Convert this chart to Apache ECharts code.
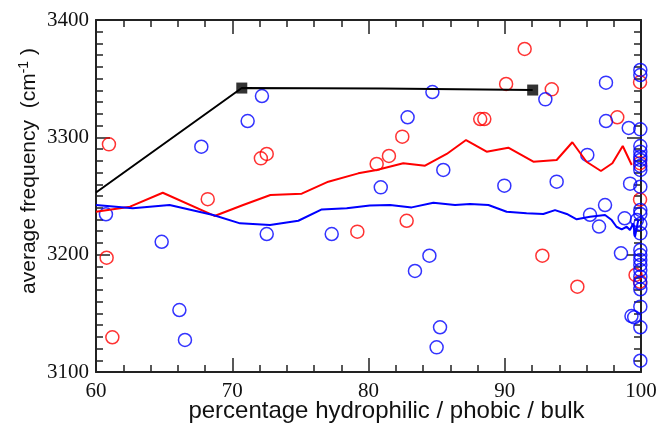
<!DOCTYPE html>
<html>
<head>
<meta charset="utf-8">
<script src="https://cdn.jsdelivr.net/npm/echarts@6/dist/echarts.min.js"></script>
<style>html,body{margin:0;padding:0;background:#fff;}#c{width:658px;height:423px;background:#fff;}</style>
</head>
<body>
<div id="c"></div>
<script>
// ---- data ----
var xTicks = [60, 70, 80, 90, 100];
var yTicks = [3100, 3200, 3300, 3400];
var xTitle = 'percentage hydrophilic / phobic / bulk';
var yTitle = '{a|average frequency  (cm}{s|-1}{a| )}';

var blackLineX = [60, 70.7, 81, 92.05];
var blackLineY = [3253, 3342, 3341.6, 3340.3];
var squareX = [70.7, 92.05];
var squareY = [3342, 3340.3];

var redLineX = [60, 62.5, 64.9, 68.7, 70.8, 72.8, 75.1, 77.05, 79.25, 80.6, 82.55, 84.15, 85.74, 87.16, 88.67, 90.26, 92.1, 93.81, 94.96, 96.0, 97.06, 97.9, 98.66, 99.32];
var redLineY = [3236.6, 3240.9, 3252.8, 3233, 3242.3, 3250.9, 3252, 3262.2, 3269.3, 3272.2, 3277.9, 3275.8, 3285.8, 3297.7, 3287.8, 3291.2, 3279.2, 3280.7, 3295.8, 3279.2, 3271.3, 3277.9, 3292.6, 3276.4];

var blueLineX = [60, 62.7, 65.4, 68.6, 70.57, 72.77, 74.85, 76.57, 78.4, 80.1, 81.58, 83.17, 84.76, 86.35, 87.45, 88.8, 90.14, 91.6, 92.83, 93.69, 94.55, 95.28, 96.26, 97.36, 97.85, 98.2, 98.58, 98.95, 99.19, 99.43, 99.56, 99.8];
var blueLineY = [3242.3, 3239.5, 3242.3, 3233.8, 3226.7, 3225.3, 3228.9, 3238.6, 3239.5, 3242, 3242.3, 3240.3, 3244.3, 3242.3, 3243.2, 3242.3, 3236.6, 3235.2, 3234.7, 3238, 3234.7, 3230.1, 3232.4, 3233.8, 3229.5, 3223.8, 3221.6, 3223.8, 3221, 3226.7, 3215.3, 3229.5];

var redPtsX = [60.95, 60.78, 61.2, 68.2, 72.1, 72.53, 79.18, 80.6, 81.5, 82.48, 82.8, 88.2, 88.5, 90.1, 91.46, 92.76, 93.45, 95.33, 98.26, 99.93, 99.93, 99.93, 99.6, 99.93];
var redPtsY = [3294, 3197.4, 3129.6, 3247.3, 3282.1, 3285.8, 3219.6, 3277.3, 3284.1, 3300.6, 3228.9, 3315.6, 3315.6, 3345.5, 3375.3, 3199.1, 3340.9, 3172.7, 3317.1, 3347, 3278, 3247, 3182.7, 3177];

var bluePtsX = [60.73, 64.82, 66.12, 66.53, 67.73, 71.13, 72.18, 72.53, 77.3, 80.9, 82.87, 83.41, 84.47, 84.69, 85.0, 85.25, 85.49, 89.97, 92.98, 93.81, 96.06, 96.26, 96.92, 97.36, 97.43, 97.43, 98.53, 98.8, 99.1, 99.2, 99.3, 99.5, 99.7,
  99.95, 99.95, 99.95, 99.95, 99.95, 99.95, 99.95, 99.95, 99.95, 99.95, 99.95, 99.95, 99.95, 99.95, 99.95, 99.95, 99.95, 99.95, 99.95, 99.95, 99.95, 99.95, 99.95, 99.95, 99.95];
var bluePtsY = [3234.4, 3211, 3152.8, 3127.3, 3292, 3313.9, 3335.2, 3217.6, 3217.6, 3257.4, 3317.1, 3186.1, 3199.1, 3338.6, 3121, 3138.1, 3272.2, 3258.8, 3332.4, 3262.2, 3285, 3234, 3224, 3242.3, 3346.6, 3313.9, 3201.2, 3231, 3308, 3260.5, 3147.7, 3146.6, 3229.5,
  3357.4, 3353.1, 3306.8, 3292.6, 3287.8, 3283.5, 3280.7, 3275.6, 3272.2, 3257.9, 3238.1, 3234.7, 3226.1, 3218.2, 3204, 3199.7, 3195.5, 3191.2, 3186.9, 3181.2, 3175.6, 3170.5, 3155.7, 3138.1, 3109.6];

function zip(xs, ys) { return xs.map(function (x, i) { return [x, ys[i]]; }); }

var axisCol = '#222';
var serifFont = 'Liberation Serif';
var sansFont = 'Liberation Sans';
function plain(v) { return String(v); }

var xRange = [xTicks[0], xTicks[xTicks.length - 1]];
var yRange = [yTicks[0], yTicks[yTicks.length - 1]];

function baseAxis(pos, showLabel, minMax, interval, split, margin) {
  return {
    type: 'value', position: pos, min: minMax[0], max: minMax[1], interval: interval,
    axisLine: { show: true, onZero: false, lineStyle: { color: axisCol, width: 2 } },
    axisTick: { show: true, inside: true, length: 14, lineStyle: { width: 1.5 } },
    minorTick: { show: true, splitNumber: split, length: 7, lineStyle: { width: 1.5 } },
    splitLine: { show: false },
    axisLabel: { show: showLabel, margin: margin, fontFamily: serifFont, fontSize: 21, color: '#111', formatter: plain }
  };
}

var option = {
  animation: false,
  grid: { left: 96, right: 17, top: 20, bottom: 51, outerBoundsMode: 'none' },
  xAxis: [baseAxis('bottom', true, xRange, 10, 5, 9), baseAxis('top', false, xRange, 10, 5, 9)],
  yAxis: [baseAxis('left', true, yRange, 100, 10, 7), baseAxis('right', false, yRange, 100, 10, 7)],
  graphic: {
    elements: [
      {
        type: 'text', silent: true, z: 50, x: 386.5, y: 411,
        style: { text: xTitle, font: '24px "Liberation Sans"', fill: '#111', align: 'center', verticalAlign: 'middle' }
      },
      {
        type: 'text', silent: true, z: 50, x: 29, y: 171, rotation: Math.PI / 2,
        style: {
          text: yTitle, align: 'center', verticalAlign: 'middle',
          rich: {
            a: { fontFamily: sansFont, fontSize: 21, fill: '#111', lineHeight: 24 },
            s: { fontFamily: sansFont, fontSize: 14, fill: '#111', lineHeight: 12, verticalAlign: 'top' }
          }
        }
      }
    ]
  },
  series: [
    { type: 'line', data: zip(blackLineX, blackLineY), showSymbol: false, symbol: 'none',
      lineStyle: { color: '#000', width: 2 } },
    { type: 'scatter', data: zip(squareX, squareY), symbol: 'rect', symbolSize: 11,
      itemStyle: { color: '#000' } },
    { type: 'line', data: zip(redLineX, redLineY), showSymbol: false, symbol: 'none',
      lineStyle: { color: '#ff0000', width: 2 } },
    { type: 'line', data: zip(blueLineX, blueLineY), showSymbol: false, symbol: 'none',
      lineStyle: { color: '#0000ff', width: 2 } },
    { type: 'scatter', data: zip(redPtsX, redPtsY), symbol: 'circle', symbolSize: 13, clip: false,
      itemStyle: { color: 'rgba(0,0,0,0)', borderColor: '#ff0000', borderWidth: 1.5 } },
    { type: 'scatter', data: zip(bluePtsX, bluePtsY), symbol: 'circle', symbolSize: 13, clip: false,
      itemStyle: { color: 'rgba(0,0,0,0)', borderColor: '#0000ff', borderWidth: 1.5 } }
  ]
};
var chart = echarts.init(document.getElementById('c'));
chart.setOption(option);
</script>
</body>
</html>
